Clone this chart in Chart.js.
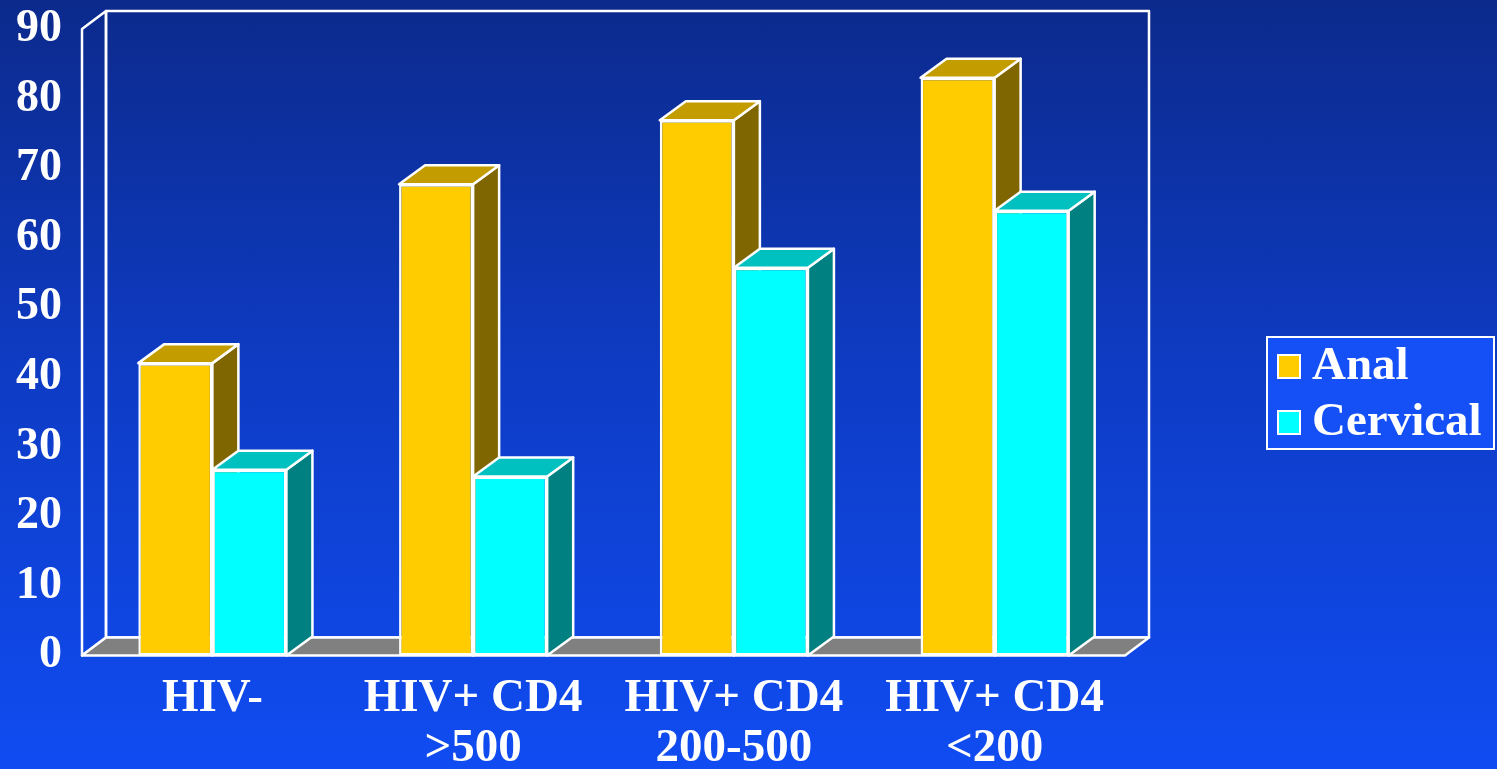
<!DOCTYPE html>
<html>
<head>
<meta charset="utf-8">
<script src="https://cdn.jsdelivr.net/npm/chart.js@4.4.1/dist/chart.umd.min.js"></script>
<style>
  html, body { margin: 0; padding: 0; }
  body {
    width: 1497px; height: 769px; overflow: hidden;
    background: linear-gradient(to bottom, #0c2a8c 0%, #0e3cc6 50%, #104cf2 100%);
  }
  canvas { display: block; }
</style>
</head>
<body>
<canvas id="chart" width="1497" height="769"></canvas>
<script>
// data
const categories = [['HIV-'], ['HIV+ CD4', '>500'], ['HIV+ CD4', '200-500'], ['HIV+ CD4', '<200']];
const seriesNames = ['Anal', 'Cervical'];
const analValues = [42, 67.7, 76.9, 83];
const cervicalValues = [26.7, 25.7, 55.7, 63.9];
const yTicks = { min: 0, max: 90, step: 10 };

// colours: front, top, side
const frontColors = ['#ffcc00', '#00ffff'];
const topColors = ['#c39c00', '#00c0c0'];
const sideColors = ['#806600', '#008080'];

const FONT = '"Liberation Serif", "Times New Roman", serif';
const BAR_DX = 26, BAR_DY = 19;   // bar depth
const WALL_DX = 24, WALL_DY = 18; // wall/floor depth

function poly(ctx, pts, fill, stroke) {
  ctx.beginPath();
  ctx.moveTo(pts[0][0], pts[0][1]);
  for (let i = 1; i < pts.length; i++) ctx.lineTo(pts[i][0], pts[i][1]);
  ctx.closePath();
  if (fill) { ctx.fillStyle = fill; ctx.fill(); }
  if (stroke) { ctx.strokeStyle = stroke; ctx.stroke(); }
}

const box3d = {
  id: 'box3d',
  // walls, floor, then the tops and sides of every bar; Chart.js draws the fronts after
  beforeDatasetsDraw(chart) {
    const ctx = chart.ctx;
    const a = chart.chartArea;
    const y0 = chart.scales.y.getPixelForValue(yTicks.min);
    const yTop = chart.scales.y.getPixelForValue(yTicks.max);
    ctx.save();
    ctx.lineWidth = 2.5;
    ctx.lineJoin = 'round';
    // back wall
    poly(ctx, [[a.left + WALL_DX, yTop - WALL_DY], [a.right + WALL_DX, yTop - WALL_DY],
               [a.right + WALL_DX, y0 - WALL_DY], [a.left + WALL_DX, y0 - WALL_DY]], null, '#ffffff');
    // left wall
    poly(ctx, [[a.left, yTop], [a.left + WALL_DX, yTop - WALL_DY],
               [a.left + WALL_DX, y0 - WALL_DY], [a.left, y0]], null, '#ffffff');
    // floor
    poly(ctx, [[a.left, y0], [a.right, y0], [a.right + WALL_DX, y0 - WALL_DY],
               [a.left + WALL_DX, y0 - WALL_DY]], '#808080', '#ffffff');

    chart.data.datasets.forEach((ds, i) => {
      chart.getDatasetMeta(i).data.forEach(bar => {
        const p = bar.getProps(['x', 'y', 'base', 'width'], true);
        const l = p.x - p.width / 2, r = p.x + p.width / 2;
        poly(ctx, [[r, p.y], [r + BAR_DX, p.y - BAR_DY], [r + BAR_DX, p.base - BAR_DY], [r, p.base]],
             sideColors[i], '#ffffff');
        poly(ctx, [[l, p.y], [l + BAR_DX, p.y - BAR_DY], [r + BAR_DX, p.y - BAR_DY], [r, p.y]],
             topColors[i], '#ffffff');
      });
    });
    ctx.restore();
  },
  afterDraw(chart) {
    // legend box
    const ctx = chart.ctx;
    const bx = 1267, by = 337, bw = 227, bh = 112;
    ctx.save();
    ctx.fillStyle = '#1450f5';
    ctx.fillRect(bx, by, bw, bh);
    ctx.lineWidth = 2;
    ctx.strokeStyle = '#ffffff';
    ctx.strokeRect(bx, by, bw, bh);
    ctx.font = 'bold 47px ' + FONT;
    ctx.textBaseline = 'alphabetic';
    chart.data.datasets.forEach((ds, k) => {
      const sy = by + 18 + k * 56;
      ctx.fillStyle = ds.backgroundColor;
      ctx.fillRect(bx + 11, sy, 22, 23);
      ctx.strokeStyle = '#ffffff';
      ctx.lineWidth = 2;
      ctx.strokeRect(bx + 11, sy, 22, 23);
      ctx.fillStyle = '#ffffff';
      ctx.fillText(ds.label, bx + 45, sy + 24);
    });
    ctx.restore();
  }
};

const ctx = document.getElementById('chart').getContext('2d');
new Chart(ctx, {
  type: 'bar',
  data: {
    labels: categories,
    datasets: [
      { label: seriesNames[0], data: analValues, backgroundColor: frontColors[0] },
      { label: seriesNames[1], data: cervicalValues, backgroundColor: frontColors[1] }
    ]
  },
  options: {
    responsive: false,
    animation: false,
    devicePixelRatio: 1,
    layout: { padding: { top: 29, right: 372, left: 0, bottom: 0 } },
    datasets: {
      bar: {
        borderColor: '#ffffff',
        borderWidth: 2.5,
        borderSkipped: false,
        barPercentage: 1,
        categoryPercentage: 0.568
      }
    },
    plugins: {
      legend: { display: false },
      tooltip: { enabled: false }
    },
    scales: {
      x: {
        grid: { display: false, drawTicks: false },
        border: { display: false },
        ticks: {
          color: '#ffffff',
          padding: 18,
          maxRotation: 0,
          autoSkip: false,
          font: { family: FONT, size: 47, weight: 'bold', lineHeight: 1.064 }
        },
        afterFit: s => { s.height = 113.5; }
      },
      y: {
        min: yTicks.min,
        max: yTicks.max,
        grid: { display: false, drawTicks: false },
        border: { display: false },
        ticks: {
          stepSize: yTicks.step,
          color: '#ffffff',
          padding: 20,
          font: { family: FONT, size: 46, weight: 'bold', lineHeight: 1 }
        },
        afterFit: s => { s.width = 82; s.paddingTop = 0; s.paddingBottom = 0; }
      }
    }
  },
  plugins: [box3d]
});
</script>
</body>
</html>
